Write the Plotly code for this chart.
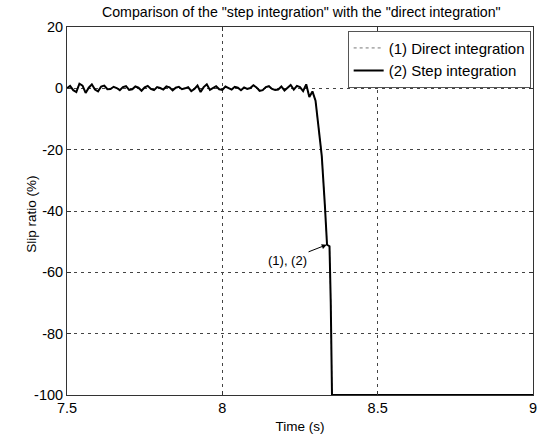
import numpy as np
import plotly.graph_objects as go

# ---- data ----
t_start = 7.50
t_step = 0.01
noise_vals = [0.0, 0.8, -0.6, -1.2, 1.5, 0.9, -1.5, 0.2, 1.3, -0.4,
              -1.0, 0.6, 0.9, -0.3, -0.2, 0.5, 0.1, -0.6, 0.4, 0.7,
              -0.5, -0.3, 0.6, 0.2, -0.8, 0.3, 0.8, -0.2, -0.6, 0.4,
              0.1, -0.4, 0.6, 0.3, -0.7, 0.2, 0.5, -0.3, 0.0, 0.4,
              -0.9, -0.2, 0.9, -1.2, 0.4, 1.3, -0.5, 0.2, 0.7, -0.3,
              -0.5, 0.6, 0.1, -0.4, 0.5, 0.2, -0.6, 0.3, -0.2, 0.1,
              1.0, 0.3, -0.8, -0.6, 0.4, 0.7, -0.2, -0.5, -0.4, 0.6,
              -0.7, 0.2, 1.1, -0.4, 0.8, 0.4, -0.9, 1.3]
drop_t = [8.28, 8.29, 8.30, 8.31, 8.32, 8.33, 8.337, 8.345, 8.349, 8.353, 9.0]
drop_y = [-2.8, -1.0, -4.0, -13.0, -22.0, -38.0, -51.0, -51.5, -70.0, -100.0, -100.0]

x_ticks = [7.5, 8, 8.5, 9]
y_ticks = [20, 0, -20, -40, -60, -80, -100]

t_noise = list(np.round(t_start + t_step * np.arange(len(noise_vals)), 3))
t_all = t_noise + drop_t
y_step = noise_vals + drop_y
y_direct = noise_vals + drop_y

FONT = "Liberation Sans, Arial, sans-serif"

fig = go.Figure()
fig.add_trace(go.Scatter(x=t_all, y=y_direct, mode="lines",
                         name="(1) Direct integration",
                         line=dict(color="#777777", width=1, dash="dot")))
fig.add_trace(go.Scatter(x=t_all, y=y_step, mode="lines",
                         name="(2) Step integration",
                         line=dict(color="black", width=2)))

fig.add_annotation(x=8.336, y=-51, ax=8.21, ay=-56, axref="x", ayref="y",
                   text="(1), (2)", showarrow=True, arrowhead=2, arrowsize=1,
                   arrowwidth=1, arrowcolor="black",
                   font=dict(family=FONT, size=13, color="black"))

# y-axis title placed as rotated annotation (closer to the axis, as in the reference)
fig.add_annotation(text="Slip ratio (%)", xref="paper", yref="paper",
                   x=-0.075, y=0.49, xanchor="center", yanchor="middle",
                   textangle=-90, showarrow=False,
                   font=dict(family=FONT, size=13.5, color="black"))

axis_common = dict(showline=True, linecolor="#333333", linewidth=1, mirror="ticks",
                   ticks="inside", ticklen=4, tickcolor="#333333",
                   showgrid=True, gridcolor="#444444", gridwidth=1,
                   griddash="3px,4px", zeroline=False, automargin=False,
                   tickfont=dict(family=FONT, size=14.5, color="black"))

fig.update_xaxes(range=[7.5, 9], tickvals=x_ticks, ticktext=[str(v) for v in x_ticks],
                 title=dict(text="Time (s)", font=dict(family=FONT, size=13.5, color="black"),
                            standoff=6),
                 **axis_common)
fig.update_yaxes(range=[-100, 20], tickvals=y_ticks, ticktext=[str(v) for v in y_ticks],
                 **axis_common)

fig.update_layout(
    width=538, height=439,
    margin=dict(l=67, r=5, t=27, b=44),
    paper_bgcolor="white", plot_bgcolor="white",
    title=dict(text='Comparison of the "step integration" with the "direct integration"',
               x=0.56, xanchor="center", y=0.985, yanchor="top",
               font=dict(family=FONT, size=14.2, color="black")),
    legend=dict(x=0.995, y=0.99, xanchor="right", yanchor="top",
                bgcolor="white", bordercolor="#555555", borderwidth=1,
                font=dict(family=FONT, size=15, color="black"),
                tracegroupgap=0, itemwidth=30),
    showlegend=True,
)

fig.write_html("out.html", config={"displayModeBar": False},
               post_script="document.body.style.margin='0px';document.body.style.overflow='hidden';")
